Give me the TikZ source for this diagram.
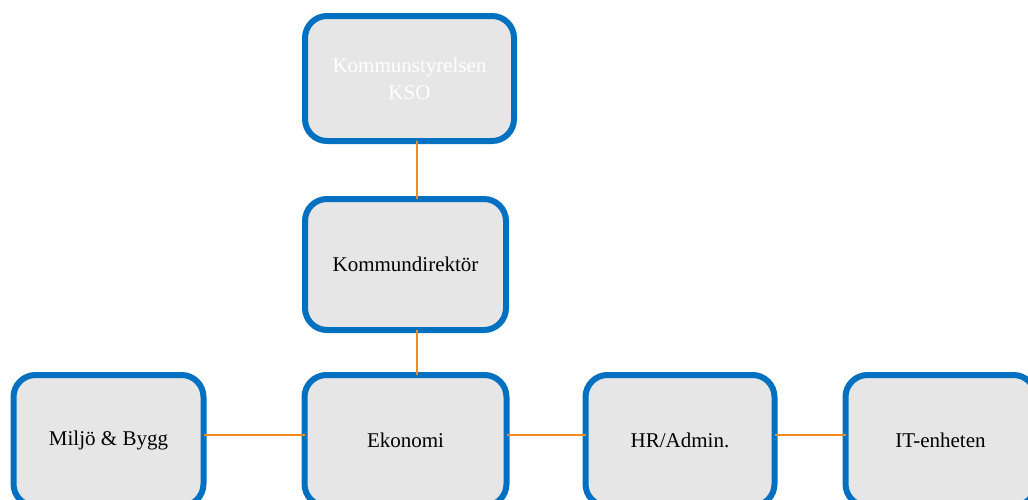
\documentclass[tikz,border=0pt]{standalone}
\usepackage{fontspec}
\setmainfont{Liberation Serif}
\usetikzlibrary{positioning}

\definecolor{boxblue}{RGB}{0,112,192}
\definecolor{boxgray}{RGB}{230,230,230}
\definecolor{linkorange}{RGB}{240,140,30}

\begin{document}
\begin{tikzpicture}[
		x=1pt, y=-1pt,
		font=\fontsize{21}{27}\selectfont,
		unit/.style={draw=boxblue, line width=6pt, fill=boxgray, rounded corners=22pt, outer sep=0pt, minimum width=190pt, minimum height=131pt, align=center},
		link/.style={draw=linkorange, line width=2pt},
	]
		\useasboundingbox (0,0) rectangle (1028,499);
		\clip (0,0) rectangle (1028,499);

		\node[unit, minimum width=209pt, minimum height=125pt, text=white] (kso) at (409.5,78.5) {Kommunstyrelsen\\KSO};
		\node[unit, minimum width=201pt, below=58pt of kso, xshift=-4pt] (dir) {Kommundirektör};
		\node[unit, minimum width=202pt, below=45pt of dir] (eko) {Ekonomi};
		\node[unit, left=101pt of eko] (miljo) {Miljö \& Bygg};
		\node[unit, minimum width=189pt, right=79pt of eko] (hr) {HR/Admin.};
		\node[unit, right=71pt of hr] (it) {IT-enheten};

		\coordinate (spine) at (417,0);

		\draw[link] (kso.south -| spine) -- (dir.north -| spine);
		\draw[link] (dir.south -| spine) -- (eko.north -| spine);
		\draw[link] ([yshift=6pt]miljo.east) -- ([yshift=6pt]eko.west);
		\draw[link] ([yshift=6pt]eko.east) -- ([yshift=6pt]hr.west);
		\draw[link] ([yshift=6pt]hr.east) -- ([yshift=6pt]it.west);
	\end{tikzpicture}
\end{document}
